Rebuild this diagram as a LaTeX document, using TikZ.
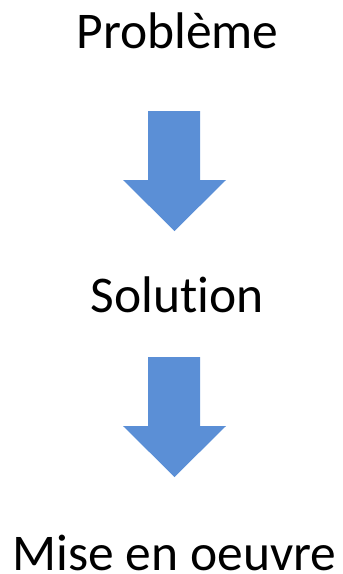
\documentclass[tikz,border=0pt]{standalone}
\usepackage{fontspec}
\setmainfont[Ligatures=NoCommon]{Carlito}
\definecolor{arrowblue}{RGB}{91,143,214}
\tikzset{
  lbl/.style={anchor=base, inner sep=0pt, text depth=0pt, font=\fontsize{51.5}{60}\selectfont},
  blockarrow/.style={fill=arrowblue, draw=none}
}
\begin{document}
\begin{tikzpicture}[x=1pt,y=-1pt]
\useasboundingbox (0,0) rectangle (343,574);
\node[lbl] (p) at (177.5,48) {Problème};
\node[lbl] (s) at (177,312) {Solution};
\node[lbl] (m) at (174.5,570) {Mise en oeuvre};
\foreach \dy in {0,246}{
  \fill[blockarrow] (148,111+\dy) -- (200,111+\dy) -- (200,180+\dy) -- (226,180+\dy)
    -- (174.5,231+\dy) -- (123,180+\dy) -- (148,180+\dy) -- cycle;
}
\end{tikzpicture}
\end{document}
